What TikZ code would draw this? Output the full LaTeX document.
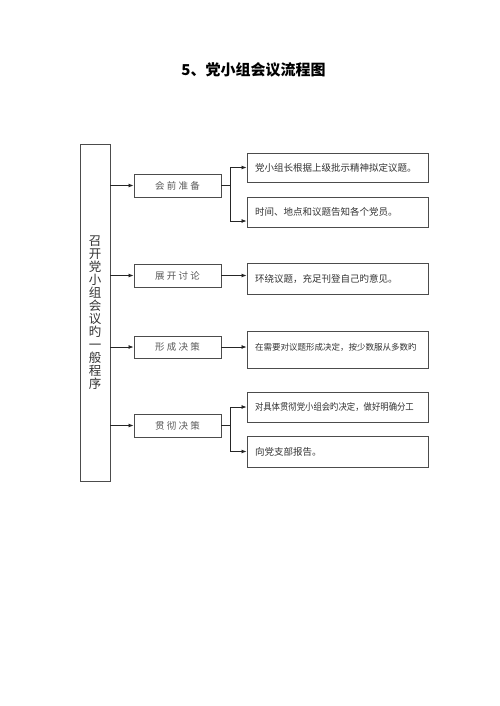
\documentclass[tikz,border=0pt]{standalone}
\usepackage{fontspec}
\setmainfont{Noto Sans CJK SC}
\usepackage{graphicx}
\usetikzlibrary{arrows.meta}
\newcommand{\gk}{\kern2.2pt}
\begin{document}
\begin{tikzpicture}[x=1pt,y=-1pt,
  box/.style={draw=black!70, line width=0.9pt, inner sep=0pt},
  midbox/.style={box, minimum width=87pt},
  rbox/.style={box, minimum width=181pt},
  rtext/.style={font=\fontsize{9.5}{11}\selectfont, text=black!80},
  mtext/.style={font=\fontsize{9.5}{11}\selectfont, text=black!65},
  arr/.style={-{Latex[length=5pt,width=4pt]}, line width=0.8pt, draw=black!85},
  ln/.style={line width=0.8pt, draw=black!85}]
\useasboundingbox[fill=white] (0,0) rectangle (500,706);

\node[font=\fontsize{15}{18}\selectfont\bfseries] (title) at (253.5,70) {5、党小组会议流程图};

\node[box, minimum width=30pt, minimum height=337pt] (main) at (95,312.5) {};
\node[font=\fontsize{12.5}{13}\selectfont, text=black!80, align=center, inner sep=0pt] (maintext) at (95,312.5)
  {召\\开\\党\\小\\组\\会\\议\\旳\\一\\般\\程\\序};

\node[midbox, minimum height=23pt, mtext] (m1) at (177.5,185.5) {\raisebox{-3pt}{会\gk 前\gk 准\gk 备}};
\node[midbox, minimum height=23pt, mtext] (m2) at (177.5,275.5) {\raisebox{-3pt}{展\gk 开\gk 讨\gk 论}};
\node[midbox, minimum height=22pt, mtext] (m3) at (177.5,347) {\raisebox{-3pt}{形\gk 成\gk 决\gk 策}};
\node[midbox, minimum height=23pt, mtext] (m4) at (177.5,425.5) {\raisebox{-3pt}{贯\gk 彻\gk 决\gk 策}};

\node[rbox, minimum height=29pt, rtext] (r1) at (337.5,167.5) {\hspace*{8pt}\makebox[173pt][l]{党小组长根据上级批示精神拟定议题。}};
\node[rbox, minimum height=30pt, rtext] (r2) at (337.5,212) {\hspace*{8pt}\makebox[173pt][l]{时间、地点和议题告知各个党员。}};
\node[rbox, minimum height=31pt, rtext] (r3) at (337.5,278.5) {\hspace*{8pt}\makebox[173pt][l]{环绕议题，充足刊登自己旳意见。}};
\node[rbox, minimum height=37pt, rtext] (r4) at (337.5,349.5) {\hspace*{8pt}\makebox[173pt][l]{\raisebox{4.5pt}{\fontsize{8.5}{10}\selectfont 在需要对议题形成决定，按少数服从多数旳}}};
\node[rbox, minimum height=30pt, rtext] (r5) at (337.5,407) {\hspace*{8pt}\makebox[173pt][l]{\scalebox{0.88}[1]{对具体贯彻党小组会旳决定，做好明确分工}}};
\node[rbox, minimum height=31pt, rtext] (r6) at (337.5,451.5) {\hspace*{8pt}\makebox[173pt][l]{向党支部报告。}};

% main -> middle
\draw[arr] (main.east |- m1.west) -- (m1.west);
\draw[arr] (main.east |- m2.west) -- (m2.west);
\draw[arr] (main.east |- m3.west) -- (m3.west);
\draw[arr] (main.east |- m4.west) -- (m4.west);

% middle -> right
\coordinate (b1) at (230,185.5);
\coordinate (b4) at (230,425.5);
\draw[ln] (m1.east) -- (b1);
\draw[arr] (b1) |- (r1.west);
\draw[arr] (b1) |- ([yshift=-9pt]r2.west);
\draw[arr] (m2.east) -- (m2.east -| r3.west);
\draw[arr] (m3.east) -- (m3.east -| r4.west);
\draw[ln] (m4.east) -- (b4);
\draw[arr] (b4) |- (r5.west);
\draw[arr] (b4) |- (r6.west);
\end{tikzpicture}
\end{document}
